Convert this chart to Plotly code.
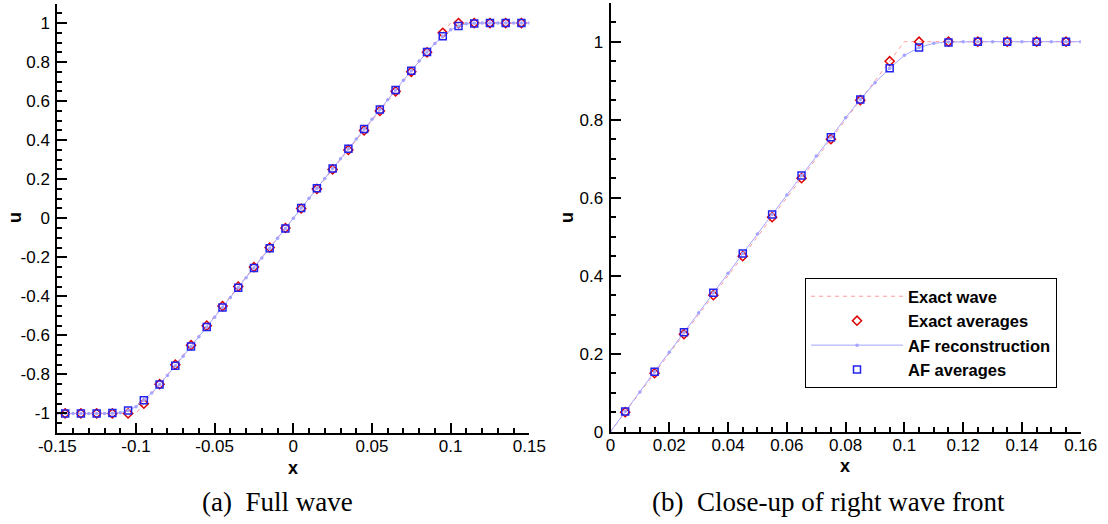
import plotly.graph_objects as go

# ---------------- data ----------------
# cell centres (cell width 0.01)
x_cells = [-0.155, -0.145, -0.135, -0.125, -0.115, -0.105, -0.095, -0.085, -0.075, -0.065,
           -0.055, -0.045, -0.035, -0.025, -0.015, -0.005, 0.005, 0.015, 0.025, 0.035,
           0.045, 0.055, 0.065, 0.075, 0.085, 0.095, 0.105, 0.115, 0.125, 0.135,
           0.145, 0.155]
exact_avg = [-1.0, -1.0, -1.0, -1.0, -1.0, -1.0, -0.95, -0.85, -0.75, -0.65,
             -0.55, -0.45, -0.35, -0.25, -0.15, -0.05, 0.05, 0.15, 0.25, 0.35,
             0.45, 0.55, 0.65, 0.75, 0.85, 0.95, 1.0, 1.0, 1.0, 1.0,
             1.0, 1.0]
af_avg = [-1.0, -1.0, -1.0, -1.0, -0.998, -0.985, -0.932, -0.852, -0.755, -0.657,
          -0.557, -0.457, -0.356, -0.255, -0.154, -0.052, 0.052, 0.154, 0.255, 0.356,
          0.457, 0.557, 0.657, 0.755, 0.852, 0.932, 0.985, 0.998, 1.0, 1.0,
          1.0, 1.0]

# exact wave (piecewise linear)
x_exact = [-0.16, -0.1, 0.1, 0.16]
u_exact = [-1.0, -1.0, 1.0, 1.0]

# AF reconstruction sampled at interfaces and centres
x_rec = [-0.16, -0.155, -0.15, -0.145, -0.14, -0.135, -0.13, -0.125, -0.12, -0.115,
         -0.11, -0.105, -0.1, -0.095, -0.09, -0.085, -0.08, -0.075, -0.07, -0.065,
         -0.06, -0.055, -0.05, -0.045, -0.04, -0.035, -0.03, -0.025, -0.02, -0.015,
         -0.01, -0.005, 0.0, 0.005, 0.01, 0.015, 0.02, 0.025, 0.03, 0.035,
         0.04, 0.045, 0.05, 0.055, 0.06, 0.065, 0.07, 0.075, 0.08, 0.085,
         0.09, 0.095, 0.1, 0.105, 0.11, 0.115, 0.12, 0.125, 0.13, 0.135,
         0.14, 0.145, 0.15, 0.155, 0.16]
u_rec = [-1.0, -1.0, -1.0, -1.0, -1.0, -1.0, -1.0, -1.0, -1.0, -0.999,
         -0.996, -0.985, -0.965, -0.932, -0.895, -0.852, -0.805, -0.755, -0.707, -0.657,
         -0.607, -0.557, -0.507, -0.457, -0.406, -0.356, -0.305, -0.255, -0.204, -0.154,
         -0.102, -0.052, 0.0, 0.052, 0.102, 0.154, 0.204, 0.255, 0.305, 0.356,
         0.406, 0.457, 0.507, 0.557, 0.607, 0.657, 0.707, 0.755, 0.805, 0.852,
         0.895, 0.932, 0.965, 0.985, 0.996, 0.999, 1.0, 1.0, 1.0, 1.0,
         1.0, 1.0, 1.0, 1.0, 1.0]

# tick labels
xa_vals = [-0.15, -0.1, -0.05, 0, 0.05, 0.1, 0.15]
xa_text = ["-0.15", "-0.1", "-0.05", "0", "0.05", "0.1", "0.15"]
ya_vals = [-1, -0.8, -0.6, -0.4, -0.2, 0, 0.2, 0.4, 0.6, 0.8, 1]
ya_text = ["-1", "-0.8", "-0.6", "-0.4", "-0.2", "0", "0.2", "0.4", "0.6", "0.8", "1"]
xb_vals = [0, 0.02, 0.04, 0.06, 0.08, 0.1, 0.12, 0.14, 0.16]
xb_text = ["0", "0.02", "0.04", "0.06", "0.08", "0.1", "0.12", "0.14", "0.16"]
yb_vals = [0, 0.2, 0.4, 0.6, 0.8, 1]
yb_text = ["0", "0.2", "0.4", "0.6", "0.8", "1"]

captions = ["(a)\u00a0 Full wave", "(b)\u00a0 Close-up of right wave front"]
names = ["Exact wave", "Exact averages", "AF reconstruction", "AF averages"]

# ---------------- styles ----------------
C_EXACT_LINE = "#ff9c9c"
C_EXACT_MK = "#dd0000"
C_REC = "#a4a4ff"
C_AF_MK = "#2222ee"

fig = go.Figure()


def add_panel(xref, yref, xmin, xmax, show):
    def sel(xs, ys):
        px, py = [], []
        for a, b in zip(xs, ys):
            if xmin - 1e-9 <= a <= xmax + 1e-9:
                px.append(a)
                py.append(b)
        return px, py

    fig.add_trace(go.Scatter(x=x_exact, y=u_exact, mode="lines", name=names[0],
                             line=dict(color=C_EXACT_LINE, width=1, dash="4px,4px"),
                             xaxis=xref, yaxis=yref, showlegend=show))
    px, py = sel(x_cells, exact_avg)
    fig.add_trace(go.Scatter(x=px, y=py, mode="markers", name=names[1],
                             marker=dict(symbol="diamond-open", size=7, color=C_EXACT_MK,
                                         line=dict(width=1.5, color=C_EXACT_MK)),
                             xaxis=xref, yaxis=yref, showlegend=show))
    px, py = sel(x_rec, u_rec)
    fig.add_trace(go.Scatter(x=px, y=py, mode="lines+markers", name=names[2],
                             line=dict(color=C_REC, width=1),
                             marker=dict(symbol="circle", size=3.5, color=C_REC),
                             xaxis=xref, yaxis=yref, showlegend=show))
    px, py = sel(x_cells, af_avg)
    fig.add_trace(go.Scatter(x=px, y=py, mode="markers", name=names[3],
                             marker=dict(symbol="square-open", size=7, color=C_AF_MK,
                                         line=dict(width=1.5, color=C_AF_MK)),
                             xaxis=xref, yaxis=yref, showlegend=show))


add_panel("x", "y", -0.15, 0.15, False)
add_panel("x2", "y2", 0.0, 0.16, True)

W, H = 1108, 524
tickfont = dict(family="Liberation Sans, Arial, sans-serif", size=17, color="black")


def ax(domain, rng, vals, text, mdt, anchor, standoff):
    return dict(domain=domain, range=rng, tickmode="array", tickvals=vals, ticktext=text,
                showline=True, linewidth=2, linecolor="black", mirror=False,
                ticks="inside", ticklen=10, tickwidth=2, tickcolor="black",
                minor=dict(ticks="inside", ticklen=5, tickwidth=1.5, tickcolor="black",
                           dtick=mdt, tick0=0, showgrid=False),
                showgrid=False, zeroline=False, tickfont=tickfont, anchor=anchor,
                automargin=False, ticklabelstandoff=standoff)


fig.update_layout(
    template="none",
    width=W, height=H,
    margin=dict(l=0, r=0, t=0, b=0),
    paper_bgcolor="white", plot_bgcolor="white",
    xaxis=ax([57.3 / W, 529.3 / W], [-0.15, 0.15], xa_vals, xa_text, 0.01, "y", -3),
    yaxis=ax([(H - 433) / H, (H - 3.5) / H], [-1.1, 1.1], ya_vals, ya_text, 0.05, "x", 2),
    xaxis2=ax([610.5 / W, 1080.7 / W], [0, 0.16], xb_vals, xb_text, 0.005, "y2", -3),
    yaxis2=ax([(H - 431.7) / H, (H - 2.7) / H], [0, 1.1], yb_vals, yb_text, 0.05, "x2", 2),
    legend=dict(x=805 / W, y=1 - 278 / H, xanchor="left", yanchor="top",
                bordercolor="black", borderwidth=1, bgcolor="white",
                itemwidth=92, tracegroupgap=0,
                font=dict(family="Liberation Sans, Arial, sans-serif", size=16.5, color="black",
                          weight="bold")),
    showlegend=True,
)

titlefont = dict(family="Liberation Sans, Arial, sans-serif", size=18, color="black", weight="bold")
capfont = dict(family="Liberation Serif, Times New Roman, serif", size=27, color="black")

anns = [
    dict(text="u", x=15 / W, y=1 - 218 / H, textangle=-90, font=titlefont,
         xanchor="center", yanchor="middle"),
    dict(text="u", x=567 / W, y=1 - 217 / H, textangle=-90, font=titlefont,
         xanchor="center", yanchor="middle"),
    dict(text="x", x=293.3 / W, y=1 - 457 / H, font=titlefont,
         xanchor="center", yanchor="top"),
    dict(text="x", x=845 / W, y=1 - 455 / H, font=titlefont,
         xanchor="center", yanchor="top"),
    dict(text=captions[0], x=277.5 / W, y=1 - 501.5 / H, font=capfont,
         xanchor="center", yanchor="middle"),
    dict(text=captions[1], x=828 / W, y=1 - 501.5 / H, font=capfont,
         xanchor="center", yanchor="middle"),
]
for a in anns:
    fig.add_annotation(xref="paper", yref="paper", showarrow=False, borderpad=0, **a)

fig.write_html("out.html")
